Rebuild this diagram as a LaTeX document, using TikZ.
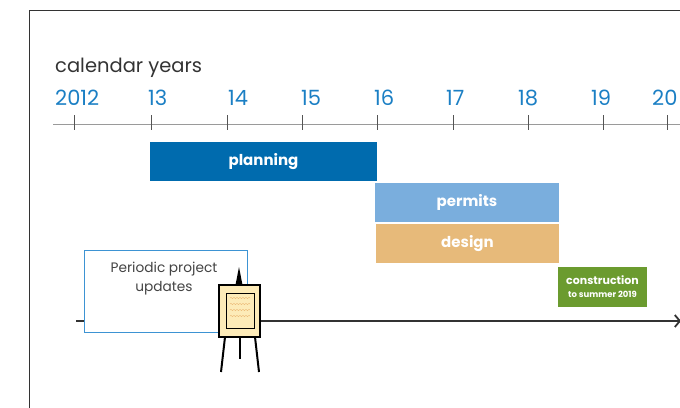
\documentclass[tikz,border=0pt]{standalone}
\usepackage{fontspec}
\setmainfont{Poppins}
\usetikzlibrary{arrows.meta,decorations.pathmorphing}
\definecolor{yearblue}{HTML}{1B7FC4}
\definecolor{planblue}{HTML}{006BAE}
\definecolor{permitblue}{HTML}{7AAEDD}
\definecolor{designtan}{HTML}{E7BA7A}
\definecolor{constgreen}{HTML}{6B9B2F}
\definecolor{boxblue}{HTML}{3D93D3}
\definecolor{easelfill}{HTML}{FDEBB8}
\definecolor{framegray}{HTML}{333333}
\definecolor{axisgray}{HTML}{9A9A9A}
\definecolor{tickgray}{HTML}{555555}
\definecolor{textgray}{HTML}{444444}
\begin{document}
\begin{tikzpicture}[x=1pt,y=-1pt,
  yearlbl/.style={anchor=base west,inner sep=0pt,text=yearblue,font=\fontsize{21}{21}\selectfont},
  bar/.style={inner sep=0pt,text=white,font=\bfseries\fontsize{15}{16}\selectfont},
  tickline/.style={tickgray,line width=0.8pt}]
\useasboundingbox (0,0) rectangle (680,407);
% frame
\draw[framegray,line width=1pt] (29,420) -- (29,10.5) -- (690,10.5);
% title
\node[anchor=base west,inner sep=0pt,text=framegray,font=\fontsize{19.5}{19.5}\selectfont] (title) at (55,72) {calendar years};
% year labels
\node[yearlbl] (y12) at (55,105) {2012};
\node[yearlbl] (y13) at (148,105) {13};
\node[yearlbl] (y14) at (228,105) {14};
\node[yearlbl] (y15) at (301,105) {15};
\node[yearlbl] (y16) at (374,105) {16};
\node[yearlbl] (y17) at (446,105) {17};
\node[yearlbl] (y18) at (518,105) {18};
\node[yearlbl] (y19) at (591,105) {19};
\node[yearlbl] (y20) at (652,105) {20};
% axis
\coordinate (axL) at (53,124);
\coordinate (axR) at (681,124);
\draw[axisgray,line width=1pt] (axL) -- (axR);
\foreach \x in {74,151,227,302,377,453,528,603,667}
  \draw[tickline] (\x,115) -- (\x,130);
% bars
\node[bar,fill=planblue,minimum width=227pt,minimum height=39pt] (planning) at (263.5,161.5) {planning};
\node[bar,fill=permitblue,minimum width=184pt,minimum height=39pt] (permits) at (467,202.5) {permits};
\node[bar,fill=designtan,minimum width=183pt,minimum height=39pt] (design) at (467.5,243.5) {design};
\node[inner sep=0pt,fill=constgreen,minimum width=89pt,minimum height=40pt,text=white,align=center,font=\bfseries\fontsize{11}{14}\selectfont] (construction) at (602.5,287)
  {construction\\[-1pt]{\fontsize{8.5}{9}\selectfont to summer 2019}};
% timeline
\coordinate (tlL) at (76,321);
\coordinate (tlR) at (681,321);
\draw[framegray,line width=1.2pt,-{Straight Barb[length=5pt,width=12pt,line width=1.8pt]}] (tlL) -- (tlR);
% periodic updates box
\node[draw=boxblue,fill=white,line width=0.9pt,minimum width=163pt,minimum height=82pt,inner sep=0pt] (updates) at (165.5,291) {};
\node[anchor=north,inner sep=0pt,align=center,text=textgray,font=\fontsize{13.7}{19}\selectfont] (updtext) at (164,262) {Periodic project\\updates};
% easel
\fill[black] (235.5,285) -- (239,267) -- (242.5,285) -- cycle;
\draw[black,line width=2pt] (225,337) -- (221,372);
\draw[black,line width=2pt] (240,337) -- (240,359);
\draw[black,line width=2pt] (255,337) -- (259,372);
\draw[black,line width=2.2pt,fill=easelfill] (219,285) rectangle (260,337);
\draw[black,line width=1pt] (226,293) rectangle (254.5,328.5);
\foreach \yy in {298,304,310,316}
  \draw[easelfill!60!orange!60!brown,line width=0.3pt,decorate,decoration={snake,amplitude=0.6pt,segment length=3pt}] (230,\yy) -- (250,\yy);
\end{tikzpicture}
\end{document}
